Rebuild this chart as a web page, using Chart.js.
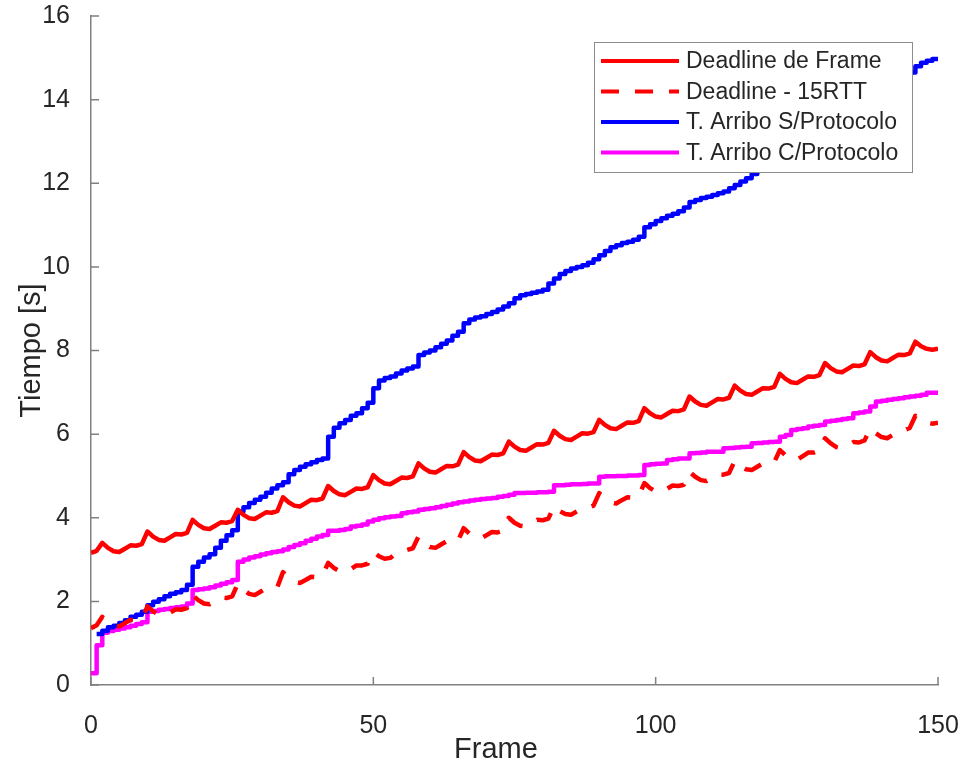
<!DOCTYPE html>
<html>
<head>
<meta charset="utf-8">
<script src="https://cdn.jsdelivr.net/npm/chart.js@4.4.1/dist/chart.umd.min.js"></script>
<style>
  html, body { margin: 0; padding: 0; background: #ffffff; }
  #chart { display: block; }
</style>
</head>
<body>
<canvas id="chart" width="963" height="767"></canvas>
<script>
//
// Data
//

var frames = [
	0, 1, 2, 3, 4, 5, 6, 7, 8, 9, 10, 11, 12, 13, 14, 15, 16, 17, 18, 19,
	20, 21, 22, 23, 24, 25, 26, 27, 28, 29, 30, 31, 32, 33, 34, 35, 36, 37, 38, 39,
	40, 41, 42, 43, 44, 45, 46, 47, 48, 49, 50, 51, 52, 53, 54, 55, 56, 57, 58, 59,
	60, 61, 62, 63, 64, 65, 66, 67, 68, 69, 70, 71, 72, 73, 74, 75, 76, 77, 78, 79,
	80, 81, 82, 83, 84, 85, 86, 87, 88, 89, 90, 91, 92, 93, 94, 95, 96, 97, 98, 99,
	100, 101, 102, 103, 104, 105, 106, 107, 108, 109, 110, 111, 112, 113, 114, 115, 116, 117, 118, 119,
	120, 121, 122, 123, 124, 125, 126, 127, 128, 129, 130, 131, 132, 133, 134, 135, 136, 137, 138, 139,
	140, 141, 142, 143, 144, 145, 146, 147, 148, 149, 150
];

var xTicks = [0, 50, 100, 150];
var yTicks = [0, 2, 4, 6, 8, 10, 12, 14, 16];

// Deadline de Frame
var deadline = [
	3.16, 3.21, 3.40, 3.28, 3.20, 3.18, 3.26, 3.34, 3.33, 3.37,
	3.67, 3.55, 3.47, 3.45, 3.53, 3.61, 3.60, 3.64, 3.95, 3.83,
	3.75, 3.73, 3.81, 3.89, 3.88, 3.92, 4.19, 4.07, 3.99, 3.97,
	4.05, 4.13, 4.12, 4.16, 4.49, 4.37, 4.29, 4.27, 4.35, 4.43,
	4.42, 4.46, 4.76, 4.64, 4.56, 4.54, 4.62, 4.70, 4.69, 4.73,
	5.02, 4.90, 4.82, 4.80, 4.88, 4.96, 4.95, 4.99, 5.30, 5.18,
	5.10, 5.08, 5.16, 5.24, 5.23, 5.27, 5.57, 5.45, 5.37, 5.35,
	5.43, 5.51, 5.50, 5.54, 5.82, 5.70, 5.62, 5.60, 5.68, 5.76,
	5.75, 5.79, 6.08, 5.96, 5.88, 5.86, 5.94, 6.02, 6.01, 6.05,
	6.34, 6.22, 6.14, 6.12, 6.20, 6.28, 6.27, 6.31, 6.62, 6.50,
	6.42, 6.40, 6.48, 6.56, 6.55, 6.59, 6.90, 6.78, 6.70, 6.68,
	6.76, 6.84, 6.83, 6.87, 7.16, 7.04, 6.96, 6.94, 7.02, 7.10,
	7.09, 7.13, 7.44, 7.32, 7.24, 7.22, 7.30, 7.38, 7.37, 7.41,
	7.70, 7.58, 7.50, 7.48, 7.56, 7.64, 7.63, 7.67, 7.96, 7.84,
	7.76, 7.74, 7.82, 7.90, 7.89, 7.93, 8.21, 8.10, 8.04, 8.02,
	8.04
];

// Deadline - 15RTT
var deadlineRtt = [
	1.36, 1.43, 1.63, 1.51, 1.42, 1.40, 1.48, 1.56, 1.54, 1.58,
	1.88, 1.76, 1.68, 1.66, 1.73, 1.81, 1.80, 1.84, 2.15, 2.03,
	1.95, 1.93, 2.01, 2.09, 2.08, 2.12, 2.42, 2.28, 2.18, 2.15,
	2.23, 2.31, 2.30, 2.34, 2.70, 2.56, 2.47, 2.44, 2.51, 2.59,
	2.58, 2.62, 2.92, 2.80, 2.72, 2.70, 2.77, 2.86, 2.86, 2.90,
	3.18, 3.08, 3.02, 3.04, 3.14, 3.22, 3.23, 3.27, 3.55, 3.40,
	3.30, 3.28, 3.36, 3.44, 3.42, 3.45, 3.75, 3.62, 3.53, 3.50,
	3.58, 3.66, 3.65, 3.69, 4.00, 3.88, 3.81, 3.79, 3.87, 3.95,
	3.94, 3.98, 4.28, 4.16, 4.09, 4.07, 4.15, 4.23, 4.24, 4.29,
	4.59, 4.46, 4.37, 4.34, 4.42, 4.49, 4.48, 4.52, 4.83, 4.71,
	4.63, 4.61, 4.69, 4.77, 4.76, 4.79, 5.10, 4.98, 4.90, 4.88,
	4.96, 5.04, 5.03, 5.07, 5.36, 5.24, 5.16, 5.14, 5.22, 5.30,
	5.29, 5.33, 5.62, 5.49, 5.40, 5.38, 5.47, 5.56, 5.56, 5.61,
	5.90, 5.78, 5.69, 5.66, 5.73, 5.81, 5.80, 5.85, 6.14, 6.02,
	5.93, 5.90, 5.98, 6.08, 6.09, 6.15, 6.44, 6.34, 6.28, 6.25,
	6.27
];

// T. Arribo S/Protocolo
var arriboSin = [
	null, 1.22, 1.30, 1.38, 1.42, 1.48, 1.55, 1.63, 1.68, 1.75,
	1.91, 1.99, 2.05, 2.12, 2.18, 2.22, 2.27, 2.40, 2.83, 2.95,
	3.05, 3.13, 3.28, 3.45, 3.58, 3.70, 4.15, 4.25, 4.35, 4.43,
	4.50, 4.60, 4.70, 4.78, 4.85, 5.04, 5.14, 5.22, 5.28, 5.33,
	5.38, 5.42, 5.94, 6.15, 6.26, 6.34, 6.44, 6.50, 6.62, 6.75,
	7.10, 7.28, 7.34, 7.38, 7.45, 7.52, 7.57, 7.62, 7.89, 7.95,
	8.00, 8.08, 8.16, 8.24, 8.35, 8.45, 8.65, 8.74, 8.79, 8.82,
	8.87, 8.92, 8.98, 9.05, 9.13, 9.25, 9.32, 9.35, 9.38, 9.41,
	9.45, 9.60, 9.72, 9.83, 9.90, 9.96, 10.00, 10.04, 10.10, 10.18,
	10.28, 10.38, 10.47, 10.52, 10.57, 10.60, 10.65, 10.72, 10.95, 11.02,
	11.10, 11.16, 11.22, 11.27, 11.33, 11.42, 11.55, 11.60, 11.65, 11.68,
	11.72, 11.76, 11.80, 11.88, 11.96, 12.04, 12.12, 12.22, 12.30, 12.40,
	12.48, 12.55, 12.72, 12.80, 12.87, 12.94, 13.00, 13.06, 13.12, 13.20,
	13.40, 13.48, 13.55, 13.62, 13.68, 13.74, 13.80, 13.88, 14.05, 14.13,
	14.20, 14.27, 14.35, 14.45, 14.55, 14.65, 14.80, 14.88, 14.93, 14.97,
	15.02
];

// T. Arribo C/Protocolo
var arriboCon = [
	0.28, 0.95, 1.25, 1.29, 1.32, 1.35, 1.38, 1.42, 1.46, 1.50,
	1.75, 1.77, 1.80, 1.82, 1.84, 1.86, 1.88, 1.95, 2.27, 2.29,
	2.31, 2.34, 2.38, 2.42, 2.46, 2.51, 2.95, 3.00, 3.05, 3.08,
	3.12, 3.15, 3.18, 3.20, 3.24, 3.30, 3.35, 3.39, 3.45, 3.50,
	3.55, 3.59, 3.69, 3.69, 3.71, 3.73, 3.79, 3.81, 3.84, 3.91,
	3.95, 3.99, 4.01, 4.03, 4.04, 4.11, 4.13, 4.15, 4.19, 4.21,
	4.23, 4.25, 4.28, 4.31, 4.34, 4.37, 4.39, 4.41, 4.43, 4.45,
	4.46, 4.47, 4.50, 4.52, 4.55, 4.59, 4.59, 4.60, 4.60, 4.61,
	4.61, 4.62, 4.78, 4.78, 4.79, 4.80, 4.80, 4.81, 4.82, 4.82,
	4.98, 4.99, 4.99, 5.00, 5.00, 5.01, 5.01, 5.02, 5.26, 5.28,
	5.29, 5.30, 5.38, 5.40, 5.42, 5.42, 5.54, 5.55, 5.56, 5.58,
	5.58, 5.58, 5.66, 5.67, 5.68, 5.69, 5.70, 5.78, 5.79, 5.80,
	5.81, 5.82, 5.94, 5.98, 6.10, 6.12, 6.14, 6.18, 6.20, 6.22,
	6.30, 6.32, 6.34, 6.36, 6.38, 6.50, 6.52, 6.54, 6.66, 6.78,
	6.80, 6.82, 6.84, 6.86, 6.88, 6.90, 6.92, 6.94, 6.99, 6.99,
	6.99
];


//
// Variables
//

var $chart = document.getElementById('chart');
var axisColor = '#808080';
var textColor = '#262626';
var fontFamily = "'Liberation Sans', Arial, Helvetica, sans-serif";


//
// Plugins
//

// Inward tick marks (MATLAB style) + x axis label
var inwardTicks = {
	id: 'inwardTicks',
	afterDraw: function(chart) {
		var ctx = chart.ctx;
		var area = chart.chartArea;
		var x = chart.scales.x;
		var y = chart.scales.y;
		ctx.save();
		ctx.strokeStyle = axisColor;
		ctx.lineWidth = 1.5;
		ctx.beginPath();
		xTicks.forEach(function(v) {
			var px = x.getPixelForValue(v);
			ctx.moveTo(px, area.bottom);
			ctx.lineTo(px, area.bottom - 8);
		});
		yTicks.forEach(function(v) {
			var py = y.getPixelForValue(v);
			ctx.moveTo(area.left, py);
			ctx.lineTo(area.left + 8, py);
		});
		ctx.stroke();

		// x label sits a bit left of the axis centre in the original
		ctx.font = '29px ' + fontFamily;
		ctx.fillStyle = textColor;
		ctx.textAlign = 'center';
		ctx.textBaseline = 'middle';
		ctx.fillText('Frame', 496, 750);
		ctx.restore();
	}
};

// Boxed legend drawn over the lines
var boxLegend = {
	id: 'boxLegend',
	afterDraw: function(chart) {
		var ctx = chart.ctx;
		var box = { x: 594.5, y: 42.5, w: 318, h: 130 };
		ctx.save();
		ctx.fillStyle = '#ffffff';
		ctx.fillRect(box.x, box.y, box.w, box.h);
		ctx.strokeStyle = '#8c8c8c';
		ctx.lineWidth = 1;
		ctx.strokeRect(box.x, box.y, box.w, box.h);

		ctx.font = '23px ' + fontFamily;
		ctx.textBaseline = 'middle';
		ctx.textAlign = 'left';
		chart.data.datasets.forEach(function(ds, i) {
			var rowY = 61 + i * 30.5;
			ctx.strokeStyle = ds.borderColor;
			ctx.lineWidth = 4;
			ctx.setLineDash(ds.borderDash || []);
			ctx.beginPath();
			ctx.moveTo(601, rowY);
			ctx.lineTo(679, rowY);
			ctx.stroke();
			ctx.setLineDash([]);
			ctx.fillStyle = textColor;
			ctx.fillText(ds.label, 686, rowY + 1);
		});
		ctx.restore();
	}
};


//
// Methods
//

// Init chart
function initChart($chart) {

	// Create chart
	var timesChart = new Chart($chart, {
		type: 'line',
		data: {
			labels: frames,
			datasets: [{
				label: 'Deadline de Frame',
				data: deadline,
				borderColor: '#ff0000',
				borderWidth: 4.5
			}, {
				label: 'Deadline - 15RTT',
				data: deadlineRtt,
				borderColor: '#ff0000',
				borderWidth: 4.5,
				borderDash: [18, 16]
			}, {
				label: 'T. Arribo S/Protocolo',
				data: arriboSin,
				borderColor: '#0000ff',
				borderWidth: 4.5,
				stepped: true
			}, {
				label: 'T. Arribo C/Protocolo',
				data: arriboCon,
				borderColor: '#ff00ff',
				borderWidth: 4.5,
				stepped: true
			}]
		},
		options: {
			responsive: false,
			animation: false,
			devicePixelRatio: 1,
			layout: { padding: { top: 16, right: 25, left: 0, bottom: 0 } },
			elements: {
				point: { radius: 0 },
				line: { tension: 0, borderJoinStyle: 'round' }
			},
			plugins: {
				legend: { display: false },
				tooltip: { enabled: false }
			},
			scales: {
				x: {
					type: 'linear',
					min: 0,
					max: 150,
					afterFit: function(scale) {
						scale.height = 82;
						scale.paddingLeft = 0;
						scale.paddingRight = 0;
					},
					afterBuildTicks: function(scale) {
						scale.ticks = xTicks.map(function(v) { return { value: v }; });
					},
					grid: { display: false },
					border: { display: true, color: axisColor, width: 1.5 },
					ticks: {
						padding: 18,
						color: textColor,
						maxRotation: 0,
						font: { family: fontFamily, size: 25 }
					},
					title: { display: false }
				},
				y: {
					min: 0,
					max: 16,
					afterFit: function(scale) {
						scale.width = 91;
						scale.paddingTop = 0;
						scale.paddingBottom = 0;
					},
					afterBuildTicks: function(scale) {
						scale.ticks = yTicks.map(function(v) { return { value: v }; });
					},
					grid: { display: false },
					border: { display: true, color: axisColor, width: 1.5 },
					ticks: {
						padding: 13,
						color: textColor,
						font: { family: fontFamily, size: 25 }
					},
					title: {
						display: true,
						text: 'Tiempo [s]',
						color: textColor,
						padding: { top: 15, bottom: 0 },
						font: { family: fontFamily, size: 29 }
					}
				}
			}
		},
		plugins: [inwardTicks, boxLegend]
	});

	// Keep a reference on the element
	$chart.chartInstance = timesChart;
}


// Init chart
if ($chart) {
	initChart($chart);
}
</script>
</body>
</html>
